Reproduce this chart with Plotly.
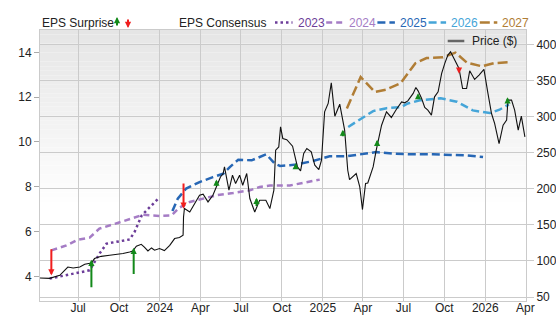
import plotly.graph_objects as go

# ---------------- data ----------------
price_dates = [
    "2023-04-06", "2023-04-28", "2023-05-21", "2023-06-08", "2023-06-20", "2023-07-05", "2023-07-16",
    "2023-07-31", "2023-08-07", "2023-08-22", "2023-09-10", "2023-09-29", "2023-10-10", "2023-10-25",
    "2023-11-01", "2023-11-09", "2023-11-20", "2023-11-27", "2023-12-05", "2023-12-13", "2023-12-20",
    "2023-12-31", "2024-01-11", "2024-01-23", "2024-02-03", "2024-02-14", "2024-02-22", "2024-02-23",
    "2024-02-25", "2024-03-08", "2024-03-19", "2024-03-30", "2024-04-07", "2024-04-18", "2024-04-29",
    "2024-05-08", "2024-05-16", "2024-05-22", "2024-05-25", "2024-06-04", "2024-06-12", "2024-06-19",
    "2024-06-28", "2024-07-05", "2024-07-14", "2024-07-21", "2024-08-01", "2024-08-12", "2024-08-26",
    "2024-09-04", "2024-09-13", "2024-09-17", "2024-09-24", "2024-09-28", "2024-10-03", "2024-10-12",
    "2024-10-25", "2024-11-05", "2024-11-12", "2024-11-19", "2024-11-26", "2024-12-06", "2024-12-14",
    "2024-12-23", "2024-12-29", "2025-01-05", "2025-01-13", "2025-01-20", "2025-01-28", "2025-02-08",
    "2025-02-19", "2025-02-26", "2025-03-02", "2025-03-17", "2025-03-25", "2025-03-31", "2025-04-07",
    "2025-04-12", "2025-04-24", "2025-05-01", "2025-05-13", "2025-05-24", "2025-06-04", "2025-06-15",
    "2025-06-27", "2025-07-04", "2025-07-11", "2025-07-23", "2025-07-29", "2025-08-03", "2025-08-11",
    "2025-08-18", "2025-08-25", "2025-09-02", "2025-09-09", "2025-09-17", "2025-09-25", "2025-10-02",
    "2025-10-09", "2025-10-15", "2025-10-24", "2025-11-03", "2025-11-11", "2025-11-20", "2025-11-27",
    "2025-12-08", "2025-12-18", "2025-12-29", "2026-01-07", "2026-01-15", "2026-01-22", "2026-02-01",
    "2026-02-10", "2026-02-18", "2026-02-21", "2026-03-01", "2026-03-08", "2026-03-16", "2026-03-23",
    "2026-03-31",
]
price_vals = [
    76.3, 75.9, 80.1, 91.6, 90.2, 91.6, 95.4,
    97.2, 103.3, 106.4, 107.8, 109.2, 110.2, 112.4,
    113.8, 120.3, 123.1, 119.3, 113.8, 118.0, 114.8,
    117.1, 114.3, 121.7, 131.0, 132.4, 135.6, 161.0,
    172.6, 167.9, 180.4, 191.0, 192.4, 181.8, 191.0,
    204.9, 216.4, 221.1, 230.3, 198.0, 218.8, 207.3,
    218.8, 204.9, 221.1, 186.5, 167.9, 184.1, 184.1,
    172.6, 198.0, 253.5, 258.0, 285.8, 269.7, 268.0,
    259.0, 230.3, 224.7, 248.9, 255.8, 251.1, 232.6,
    226.7, 239.6, 306.6, 318.2, 346.8, 300.6, 317.2,
    281.2, 225.7, 212.8, 221.1, 202.5, 171.2, 207.3,
    208.1, 230.3, 253.5, 288.1, 306.6, 298.8, 309.9,
    320.4, 319.1, 321.8, 332.1, 340.4, 335.7, 325.1,
    312.7, 308.9, 302.0, 327.4, 334.3, 359.8, 373.7,
    385.2, 389.8, 378.3, 366.7, 339.0, 339.0, 363.4,
    351.5, 357.5, 365.4, 332.1, 304.3, 290.5, 262.7,
    288.1, 295.1, 322.8, 322.8, 308.9, 281.2, 300.6,
    271.9,
]

eps2023_dates = ["2023-04-28", "2023-07-27", "2023-08-19", "2023-09-03", "2023-10-25", "2023-11-05",
                 "2023-11-21", "2023-12-02", "2023-12-28"]
eps2023_vals = [3.90, 4.27, 5.04, 5.46, 5.65, 5.98, 6.72, 6.95, 7.47]

eps2024_dates = ["2023-05-02", "2023-06-05", "2023-07-01", "2023-07-27", "2023-08-18", "2023-09-25",
                 "2023-10-29", "2023-11-24", "2023-12-31", "2024-01-27", "2024-02-14", "2024-03-08",
                 "2024-04-07", "2024-05-07", "2024-06-13", "2024-07-21", "2024-08-12", "2024-09-04",
                 "2024-10-19", "2024-11-11", "2024-12-25"]
eps2024_vals = [5.16, 5.38, 5.64, 5.73, 6.13, 6.35, 6.58, 6.75, 6.70, 6.72, 7.07, 7.32,
                7.47, 7.62, 7.72, 7.84, 7.99, 8.06, 8.06, 8.14, 8.32]

eps2025_dates = ["2024-01-29", "2024-02-10", "2024-02-29", "2024-03-30", "2024-04-29", "2024-05-22",
                 "2024-06-06", "2024-06-25", "2024-07-25", "2024-08-27", "2024-09-15", "2024-09-27",
                 "2024-10-19", "2024-11-03", "2024-12-10", "2025-01-16", "2025-02-23", "2025-04-01",
                 "2025-05-01", "2025-06-08", "2025-07-15", "2025-09-05", "2025-11-20", "2025-12-27"]
eps2025_vals = [6.92, 7.47, 7.92, 8.21, 8.43, 8.58, 8.88, 9.21, 9.18, 9.45, 9.03, 8.93,
                8.96, 9.00, 9.15, 9.36, 9.36, 9.48, 9.55, 9.48, 9.45, 9.45, 9.40, 9.33]

eps2026_dates = ["2025-02-27", "2025-03-31", "2025-04-24", "2025-05-24", "2025-06-25", "2025-07-11",
                 "2025-08-07", "2025-09-23", "2025-10-29", "2025-12-04", "2026-01-11", "2026-02-02",
                 "2026-02-23"]
eps2026_vals = [10.67, 11.08, 11.38, 11.51, 11.55, 11.72, 11.86, 11.95, 11.80, 11.41, 11.29, 11.44, 11.68]

eps2027_dates = ["2025-02-24", "2025-03-27", "2025-04-28", "2025-05-23", "2025-06-25", "2025-07-28",
                 "2025-08-22", "2025-09-28", "2025-10-26", "2025-11-21", "2025-12-24", "2026-01-20",
                 "2026-02-26"]
eps2027_vals = [11.50, 12.90, 12.23, 12.34, 12.63, 13.52, 13.75, 13.78, 13.99, 13.54, 13.38, 13.52, 13.57]

surprise_dates = ["2023-05-02", "2023-07-31", "2023-11-03", "2024-02-23", "2024-05-07", "2024-08-05",
                  "2024-11-01", "2025-02-15", "2025-05-03", "2025-08-03", "2025-11-03", "2026-02-20"]
surprise_from = [5.28, 3.45, 4.04, 8.21, 7.99, 7.07, 8.80, 10.19, 9.77, 11.86, 13.38, 11.68]
surprise_to = [4.04, 4.74, 5.28, 7.02, 8.32, 7.51, 9.06, 10.55, 10.10, 12.18, 13.05, 12.00]

consensus_years = ["2023", "2024", "2025", "2026", "2027"]
consensus_colors = ["#6c3d99", "#a57cc5", "#2767b5", "#45a5d8", "#b07d35"]
consensus_dash = ["2.5px,3px", "6px,4px", "8px,4px", "8px,4px", "10px,4px"]

x_tick_vals = ["2023-07-01", "2023-10-01", "2024-01-01", "2024-04-01", "2024-07-01", "2024-10-01",
               "2025-01-01", "2025-04-01", "2025-07-01", "2025-10-01", "2026-01-01", "2026-04-01"]
x_tick_text = ["Jul", "Oct", "2024", "Apr", "Jul", "Oct", "2025", "Apr", "Jul", "Oct", "2026", "Apr"]
eps_ticks = [4, 6, 8, 10, 12, 14]
price_ticks = [50, 100, 150, 200, 250, 300, 350, 400]

GREEN = "#13891a"
RED = "#f01e1e"
GRID = "#cbcbcb"
FONT = "Liberation Sans, Arial, sans-serif"

# ---------------- figure ----------------
W, H = 556, 315
ML, MR, MT, MB = 40, 30, 30, 14
PW, PH = W - ML - MR, H - MT - MB


def px(x):
    return (x - ML) / PW


def py(y):
    return (H - MB - y) / PH


fig = go.Figure()
fig.add_trace(go.Scatter(x=price_dates, y=price_vals, yaxis="y2", mode="lines",
                         line=dict(color="#111111", width=1.1), showlegend=False, hoverinfo="skip"))

eps_series = [(eps2023_dates, eps2023_vals), (eps2024_dates, eps2024_vals), (eps2025_dates, eps2025_vals),
              (eps2026_dates, eps2026_vals), (eps2027_dates, eps2027_vals)]
for (d, v), name, col, dash in zip(eps_series, consensus_years, consensus_colors, consensus_dash):
    fig.add_trace(go.Scatter(x=d, y=v, mode="lines", name=name,
                             line=dict(color=col, width=2.5, dash=dash), showlegend=False, hoverinfo="skip"))

annotations = []
for d, a, b in zip(surprise_dates, surprise_from, surprise_to):
    col = GREEN if b > a else RED
    annotations.append(dict(x=d, y=b, ax=d, ay=a, xref="x", yref="y", axref="x", ayref="y",
                            text="", showarrow=True, arrowhead=2, arrowsize=0.62, arrowwidth=2,
                            arrowcolor=col, standoff=0, startstandoff=0))

shapes = []
# background gradient
N = 60
for i in range(N):
    t = (i + 0.5) / N
    v = int(round(229 + (255 - 229) * min(1.0, t / 0.65)))
    shapes.append(dict(type="rect", xref="paper", yref="paper", x0=0, x1=1,
                       y0=1 - (i + 1) / N, y1=1 - i / N, fillcolor=f"rgb({v},{v},{v})",
                       line=dict(width=0), layer="below"))

# top legend
LEG_Y = 22.5
annotations.append(dict(x=px(40), y=py(LEG_Y), xref="paper", yref="paper", xanchor="left", yanchor="middle",
                        text="EPS Surprise", showarrow=False, font=dict(size=12, color="#222", family=FONT)))
annotations.append(dict(x=px(117), y=py(17), xref="paper", yref="paper", ax=0, ay=10, text="",
                        showarrow=True, arrowhead=2, arrowsize=0.62, arrowwidth=2, arrowcolor=GREEN))
annotations.append(dict(x=px(128), y=py(28), xref="paper", yref="paper", ax=0, ay=-10, text="",
                        showarrow=True, arrowhead=2, arrowsize=0.62, arrowwidth=2, arrowcolor=RED))
annotations.append(dict(x=px(177), y=py(LEG_Y), xref="paper", yref="paper", xanchor="left", yanchor="middle",
                        text="EPS Consensus", showarrow=False, font=dict(size=12, color="#222", family=FONT)))
for i, (name, col, dash) in enumerate(zip(consensus_years, consensus_colors, consensus_dash)):
    x0 = 275 + 51.2 * i
    shapes.append(dict(type="line", xref="paper", yref="paper", x0=px(x0), x1=px(x0 + 17.5),
                       y0=py(LEG_Y), y1=py(LEG_Y), line=dict(color=col, width=2.5, dash=dash)))
    annotations.append(dict(x=px(x0 + 20.5), y=py(LEG_Y), xref="paper", yref="paper", xanchor="left",
                            yanchor="middle", text=name, showarrow=False,
                            font=dict(size=12, color=col, family=FONT)))

# price legend
shapes.append(dict(type="line", xref="paper", yref="paper", x0=px(447.7), x1=px(464.3),
                   y0=py(41), y1=py(41), line=dict(color="#666666", width=2.5)))
annotations.append(dict(x=px(469.5), y=py(41), xref="paper", yref="paper", xanchor="left", yanchor="middle",
                        text="Price ($)", showarrow=False, font=dict(size=12, color="#222", family=FONT)))

fig.update_layout(
    width=W, height=H,
    margin=dict(l=ML, r=MR, t=MT, b=MB, pad=0, autoexpand=False),
    paper_bgcolor="white", plot_bgcolor="rgba(0,0,0,0)",
    font=dict(family=FONT, size=12, color="#333"),
    showlegend=False,
    shapes=shapes, annotations=annotations,
    xaxis=dict(type="date", range=["2023-04-06 12:00", "2026-04-02 12:00"], tickmode="array",
               tickvals=x_tick_vals, ticktext=x_tick_text, showgrid=True, gridcolor=GRID, gridwidth=1,
               showline=True, linecolor=GRID, linewidth=1, mirror=True, ticks="", ticklen=0,
               ticklabelstandoff=-4,
               zeroline=False, automargin=False, tickfont=dict(size=12, color="#222")),
    yaxis=dict(range=[2.9, 15.0], tickmode="array", tickvals=eps_ticks, showgrid=False,
               ticks="outside", ticklen=5, tickcolor="#aaaaaa", showline=True, linecolor=GRID,
               mirror=True, zeroline=False, automargin=False, tickfont=dict(size=12, color="#222")),
    yaxis2=dict(range=[44.5, 420], overlaying="y", side="right", tickmode="array", tickvals=price_ticks,
                showgrid=True, gridcolor=GRID, gridwidth=1, ticks="outside", ticklen=7, tickcolor=GRID,
                zeroline=False, showline=False, automargin=False, tickfont=dict(size=12, color="#222")),
)

fig.write_html("out.html")
